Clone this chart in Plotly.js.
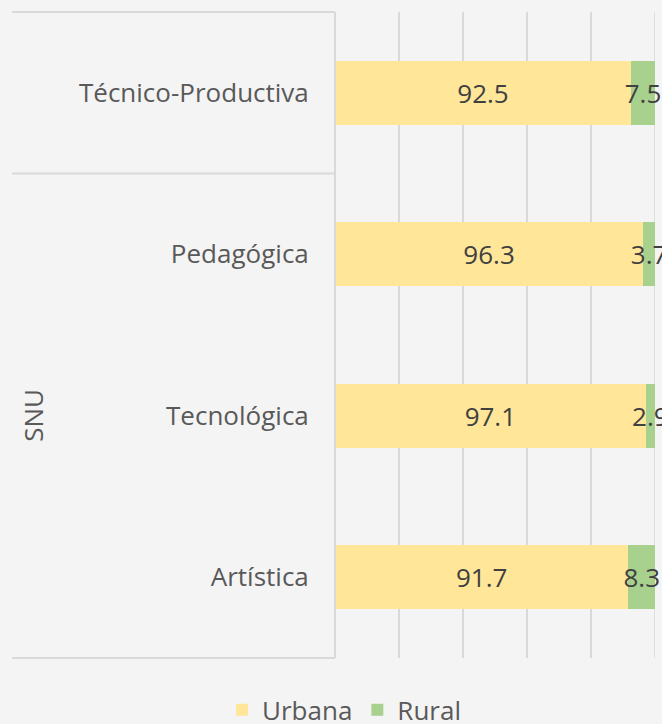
<!DOCTYPE html>
<html>
<head>
<meta charset="utf-8">
<script src="https://cdn.plot.ly/plotly-3.0.1.min.js"></script>
<style>html,body{margin:0;padding:0;background:#F4F4F4;}#chart{width:662px;height:724px;}</style>
</head>
<body>
<div id="chart"></div>
<script>
// Categories (bottom to top)
const categories = ["Artística", "Tecnológica", "Pedagógica", "Técnico-Productiva"];
const groupLabel = "SNU";           // group covering the first three categories
const groupSize = 3;
const urbana = [91.7, 97.1, 96.3, 92.5];
const rural = [8.3, 2.9, 3.7, 7.5];
const seriesNames = ["Urbana", "Rural"];

const FONT = "Open Sans, Noto Sans, sans-serif";
const FS = 26;
const lineColor = "#D9D9D9";

const fmt = v => v.toFixed(1);

const traces = [
  {type: "bar", orientation: "h", name: seriesNames[0], y: categories, x: urbana,
   marker: {color: "#FFE699"}, text: urbana.map(fmt), textposition: "inside", textangle: 0,
   insidetextanchor: "middle", textfont: {family: FONT, size: FS, color: "#404040"},
   hoverinfo: "x+y", cliponaxis: false},
  {type: "bar", orientation: "h", name: seriesNames[1], y: categories, x: rural,
   marker: {color: "#A9D18E"}, text: rural.map(fmt), textposition: "inside", textangle: 0,
   insidetextanchor: "middle", textfont: {family: FONT, size: FS, color: "#404040"},
   hoverinfo: "x+y", cliponaxis: false}
];

const n = categories.length;
const W = 662, L = 335, R = 7;
const plotW = W - L - R;
const leftEdge = (12 - L) / plotW;   // paper x of the left end of category axis lines
const groupTop = groupSize / n;

const shapes = [
  {type: "line", xref: "paper", yref: "paper", x0: leftEdge, x1: 0, y0: 1, y1: 1, line: {color: lineColor, width: 2}},
  {type: "line", xref: "paper", yref: "paper", x0: leftEdge, x1: 0, y0: groupTop, y1: groupTop, line: {color: lineColor, width: 2}},
  {type: "line", xref: "paper", yref: "paper", x0: leftEdge, x1: 0, y0: 0, y1: 0, line: {color: lineColor, width: 2}},
  {type: "line", xref: "paper", yref: "paper", x0: 0, x1: 0, y0: 0, y1: 1, line: {color: lineColor, width: 2}},
  {type: "line", xref: "x", yref: "paper", x0: 100, x1: 100, y0: 0, y1: 1, layer: "below", line: {color: lineColor, width: 1.5}}
];

const layout = {
  width: 662, height: 724,
  paper_bgcolor: "#F4F4F4", plot_bgcolor: "#F4F4F4",
  margin: {l: L, r: R, t: 12, b: 66, pad: 0, autoexpand: false},
  barmode: "stack", bargap: 0.604,
  font: {family: FONT, size: FS, color: "#595959"},
  xaxis: {range: [0, 100], dtick: 20, showgrid: true, gridcolor: lineColor, gridwidth: 1.5,
          showticklabels: false, zeroline: false, showline: false, fixedrange: true},
  yaxis: {type: "category", categoryorder: "array", categoryarray: categories,
          showgrid: false, zeroline: false, showline: false,
          ticks: "outside", ticklen: 20, tickcolor: "rgba(0,0,0,0)",
          tickfont: {family: FONT, size: FS, color: "#595959"}, fixedrange: true},
  uniformtext: {mode: "show", minsize: FS},
  showlegend: true,
  legend: {orientation: "h", x: (344 - L) / plotW, xref: "paper", xanchor: "center",
           y: -0.044, yanchor: "top", font: {family: FONT, size: FS, color: "#595959"},
           bgcolor: "rgba(0,0,0,0)", itemwidth: 30, traceorder: "normal"},
  shapes: shapes,
  annotations: [
    {text: groupLabel, xref: "paper", yref: "paper", x: (33 - L) / plotW, y: groupTop / 2,
     textangle: -90, showarrow: false, font: {family: FONT, size: FS, color: "#595959"},
     xanchor: "center", yanchor: "middle"}
  ]
};

Plotly.newPlot("chart", traces, layout, {displayModeBar: false, staticPlot: true});
</script>
</body>
</html>
